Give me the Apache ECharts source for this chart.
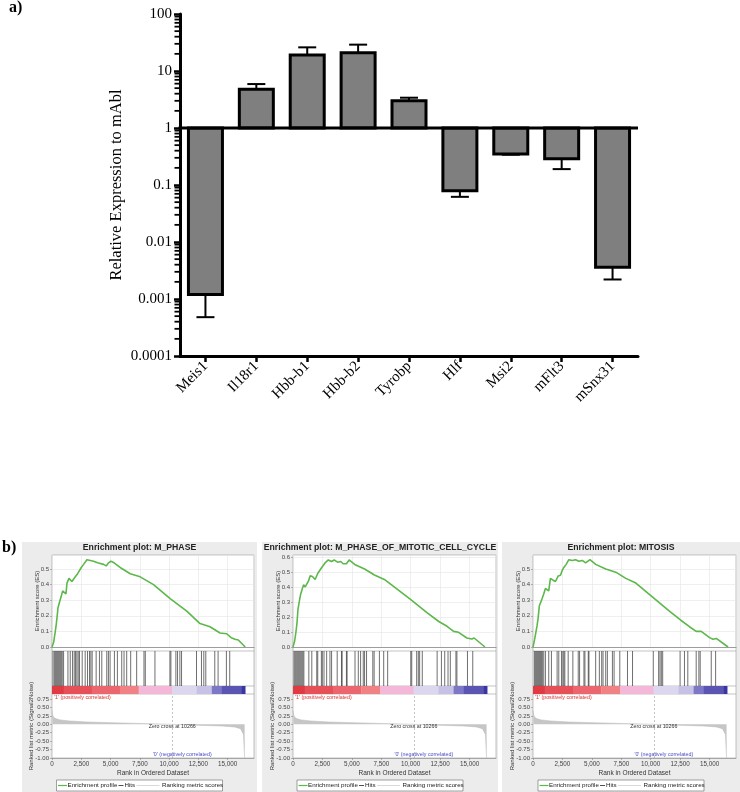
<!DOCTYPE html>
<html><head><meta charset="utf-8">
<script src="https://cdn.jsdelivr.net/npm/echarts@6/dist/echarts.min.js"></script>
<style>html,body{margin:0;padding:0;background:#fff}#c{width:740px;height:792px}</style>
</head><body><div id="c"></div>
<script>
// ================= Part a data =================
const genes = ['Meis1', 'Il18r1', 'Hbb-b1', 'Hbb-b2', 'Tyrobp', 'Hlf', 'Msi2', 'mFlt3', 'mSnx31'];
const expression = [0.0012, 4.8, 19, 21, 3.0, 0.079, 0.35, 0.29, 0.0036];
const errorEnds = [0.00048, 5.9, 26, 29, 3.4, 0.062, 0.34, 0.19, 0.0022];
const logTickLabels = ['0.0001', '0.001', '0.01', '0.1', '1', '10', '100'];
const minorMultipliers = [2, 3, 4, 5, 6, 7, 8, 9];
const decades = [0.0001, 0.001, 0.01, 0.1, 1, 10];

// ================= Part b data =================
const panelTitles = ['Enrichment plot: M_PHASE', 'Enrichment plot: M_PHASE_OF_MITOTIC_CELL_CYCLE', 'Enrichment plot: MITOSIS'];
const esCurve1 = [[0,0],[60,0.0],[140,0.03],[340,0.13],[430,0.19],[510,0.25],[650,0.29],[770,0.32],[910,0.36],[1080,0.35],[1190,0.34],[1280,0.41],[1450,0.44],[1700,0.42],[1990,0.45],[2190,0.47],[2360,0.46],[2500,0.51],[2700,0.53],[2980,0.56],[3270,0.555],[3550,0.55],[3890,0.54],[4400,0.53],[4630,0.52],[4830,0.54],[5030,0.55],[5300,0.54],[5820,0.51],[6680,0.47],[7530,0.45],[8670,0.40],[10090,0.31],[11510,0.23],[12640,0.15],[13490,0.13],[14350,0.09],[14920,0.085],[15300,0.06],[15450,0.065],[15630,0.05],[15910,0.045],[16500,0.0]];
const esCurve2 = [[0,0],[56,0],[140,0.04],[250,0.10],[340,0.16],[420,0.25],[530,0.30],[645,0.35],[757,0.38],[900,0.415],[1040,0.40],[1180,0.39],[1320,0.44],[1460,0.475],[1650,0.47],[1880,0.45],[2100,0.49],[2240,0.48],[2440,0.53],[2720,0.56],[3000,0.58],[3280,0.57],[3500,0.58],[3780,0.565],[4060,0.57],[4260,0.555],[4540,0.555],[4770,0.58],[5240,0.55],[6080,0.52],[6920,0.48],[7760,0.45],[8600,0.40],[10010,0.315],[11410,0.227],[12390,0.17],[13090,0.138],[13650,0.104],[14070,0.098],[14770,0.06],[15190,0.053],[15390,0.06],[16310,0]];
const esCurve3 = [[0,0],[57,0],[142,0.05],[256,0.05],[342,0.135],[427,0.18],[541,0.265],[655,0.275],[769,0.31],[911,0.34],[1054,0.375],[1196,0.37],[1338,0.36],[1481,0.44],[1680,0.43],[1908,0.42],[2136,0.455],[2335,0.46],[2477,0.49],[2620,0.51],[2819,0.53],[3047,0.56],[3332,0.555],[3617,0.56],[3901,0.55],[4186,0.555],[4470,0.54],[4841,0.56],[5325,0.53],[6179,0.50],[7033,0.48],[7887,0.44],[8741,0.41],[10165,0.32],[11589,0.23],[12585,0.17],[13297,0.13],[13867,0.10],[14294,0.10],[15006,0.06],[15290,0.05],[15575,0.055],[16572,0]];
const hits1 = [85,196,281,366,451,536,621,706,791,876,990,1360,1557,1755,1898,2011,2125,2238,2351,2579,2834,3033,3203,3316,3430,3770,4053,4252,4677,4819,4961,5330,5585,5954,6152,6379,6719,7230,7854,7968,8791,10068,10153,10579,10721,10919,11062,12340,12765,12964,13134,13900,14184,14893,15177];
const hits2 = [84,168,252,336,420,504,589,673,757,841,925,1345,1598,2018,2102,2410,2494,2635,2859,3139,3279,3756,4120,4176,4540,4596,5269,5549,5745,5970,6082,6250,6782,6895,7343,7707,8044,10006,10090,10510,10650,10762,10987,12248,12612,12892,13173,13369,13845,13929,14826,15275];
const hits3 = [114,199,285,370,456,541,626,712,797,911,1054,1338,1566,2050,2192,2420,2534,2620,2705,2990,3388,3844,3958,4328,4413,4698,4755,5325,5638,5837,5951,6179,6321,6748,6891,7375,8030,8457,10222,10677,10791,10905,11019,12500,12870,13155,13867,14095,14208,15148,15518];
const rankedMetric = [[0,0.42],[40,0.30],[120,0.22],[300,0.17],[700,0.13],[1500,0.10],[3000,0.07],[5000,0.05],[7500,0.025],[10266,0],[12500,-0.03],[14500,-0.05],[15600,-0.08],[16100,-0.13],[16350,-0.3],[16450,-1.0]];
const colorBarEdges = [0, 1000, 3400, 5800, 7400, 10250, 12350, 13650, 14500, 16200, 16500];
const zeroCross = 10266;
const esAxisMax = [0.59, 0.613, 0.59];
const rankMax = 17250;
const rankTickStep = 2500;

// ================= styles / layout =================
const SERIF = '"Liberation Serif","Times New Roman",serif';
const SANS = '"Liberation Sans",Arial,sans-serif';
const colorBarColors = ['#e03a42','#e65058','#ec6670','#f08286','#f5b7d7','#dcd7ee','#c7c1e5','#7d77c8','#5a55b2','#3a35a0'];
const esColor = '#5cb84a';
const panelLayout = [
  {bgL: 22, bgR: 257, plotL: 52, plotR: 254},
  {bgL: 262, bgR: 498, plotL: 293, plotR: 496},
  {bgL: 502, bgR: 740, plotL: 533, plotR: 736}
];
const esCurves = [esCurve1, esCurve2, esCurve3];
const hitsList = [hits1, hits2, hits3];
const Y = {bgTop: 542, title: 548, esTop: 555, esBot: 647, frameEsBot: 651, hitsBot: 686, barBot: 694, metBot: 758};

const grids = [], xAxes = [], yAxes = [], series = [], graphics = [];

// ---------------- Part a ----------------
grids.push({left: 180, top: 14, width: 458, height: 342});
xAxes.push({
  gridIndex: 0, type: 'category', data: genes, boundaryGap: true,
  axisLine: {show: true, lineStyle: {color: '#000', width: 3}},
  axisTick: {show: true, alignWithLabel: true, length: 6, lineStyle: {color: '#000', width: 2.5}},
  axisLabel: {rotate: 45, fontFamily: SERIF, fontSize: 15, color: '#000', margin: 8},
  splitLine: {show: false}
});
yAxes.push({
  gridIndex: 0, type: 'log', logBase: 10, min: 0.0001, max: 100,
  name: 'Relative Expression to mAbl', nameLocation: 'middle', nameGap: 55, nameMoveOverlap: false,
  nameTextStyle: {fontFamily: SERIF, fontSize: 16.5, color: '#000'},
  axisLine: {show: true, lineStyle: {color: '#000', width: 3}},
  axisTick: {show: true, length: 6, lineStyle: {color: '#000', width: 2.5}},
  axisLabel: {fontFamily: SERIF, fontSize: 15, color: '#000', margin: 8,
    formatter: v => logTickLabels[Math.round(Math.log10(v)) + 4]},
  splitLine: {show: false}
});
// log-spaced minor ticks
const minorTickValues = [];
decades.forEach(d => minorMultipliers.forEach(m => minorTickValues.push(d * m)));
series.push({
  type: 'custom', xAxisIndex: 0, yAxisIndex: 0, silent: true, z: 3,
  data: minorTickValues.map(v => [0, v]),
  encode: {x: 0, y: 1},
  renderItem(params, api) {
    const p = api.coord([0, api.value(1)]);
    const x = params.coordSys.x;
    return {type: 'line', shape: {x1: x - 5.5, y1: p[1], x2: x, y2: p[1]}, style: {stroke: '#000', lineWidth: 1.8}};
  }
});
// bars with error bars
series.push({
  type: 'custom', xAxisIndex: 0, yAxisIndex: 0, silent: true, z: 4,
  data: genes.map((g, i) => [i, expression[i], errorEnds[i]]),
  encode: {x: 0, y: 1},
  renderItem(params, api) {
    const i = api.value(0), v = api.value(1), e = api.value(2);
    const base = api.coord([i, 1]), top = api.coord([i, v]), err = api.coord([i, e]);
    const w = 34, cap = 18, x = base[0];
    const y0 = Math.min(base[1], top[1]), h = Math.abs(top[1] - base[1]);
    return {type: 'group', children: [
      {type: 'line', shape: {x1: x, y1: top[1], x2: x, y2: err[1]}, style: {stroke: '#000', lineWidth: 2}},
      {type: 'line', shape: {x1: x - cap / 2, y1: err[1], x2: x + cap / 2, y2: err[1]}, style: {stroke: '#000', lineWidth: 2}},
      {type: 'rect', shape: {x: x - w / 2, y: y0, width: w, height: h}, style: {fill: '#7f7f7f', stroke: '#000', lineWidth: 3}}
    ]};
  }
});
// baseline at 1
series.push({
  type: 'custom', xAxisIndex: 0, yAxisIndex: 0, silent: true, z: 6,
  data: [[0, 1]], encode: {x: 0, y: 1},
  renderItem(params, api) {
    const p = api.coord([0, 1]);
    const cs = params.coordSys;
    return {type: 'line', shape: {x1: cs.x - 1.5, y1: p[1], x2: cs.x + cs.width, y2: p[1]}, style: {stroke: '#000', lineWidth: 3}};
  }
});

graphics.push({type: 'text', x: 9, y: 8, z: 100, style: {text: 'a)', fontFamily: SERIF, fontWeight: 'bold', fontSize: 16, fill: '#000', verticalAlign: 'middle'}});
graphics.push({type: 'text', x: 2, y: 548, z: 100, style: {text: 'b)', fontFamily: SERIF, fontWeight: 'bold', fontSize: 16, fill: '#000', verticalAlign: 'middle'}});

// ---------------- Part b ----------------
const annotationTexts = ["'1' (positively correlated)", 'Zero cross at ' + zeroCross, "'0' (negatively correlated)"];
const annotationColors = ['#e03030', '#333333', '#4a4acc'];

panelLayout.forEach((P, p) => {
  const w = P.plotR - P.plotL;
  const cx = (P.bgL + P.bgR) / 2;
  graphics.push({type: 'rect', z: -100, shape: {x: P.bgL, y: Y.bgTop, width: P.bgR - P.bgL, height: 792 - Y.bgTop}, style: {fill: '#ececec'}});
  graphics.push({type: 'rect', z: -90, shape: {x: P.plotL, y: Y.esTop, width: w, height: Y.metBot - Y.esTop}, style: {fill: '#fff', stroke: '#9a9a9a', lineWidth: 0.6}});
  [Y.frameEsBot, Y.hitsBot, Y.barBot].forEach(yy => graphics.push({type: 'line', z: -80, shape: {x1: P.plotL, y1: yy, x2: P.plotR, y2: yy}, style: {stroke: '#9a9a9a', lineWidth: 0.6}}));
  graphics.push({type: 'text', x: cx, y: Y.title, z: 100, style: {text: panelTitles[p], fontFamily: SANS, fontWeight: 'bold', fontSize: 8.7, fill: '#222', align: 'center', verticalAlign: 'middle'}});
  const L = cx - 83, T = 780, H = 11, my = T + H / 2;
  graphics.push({type: 'rect', z: 50, shape: {x: L, y: T, width: 166, height: H}, style: {fill: '#fff', stroke: '#666', lineWidth: 0.6}});
  graphics.push({type: 'line', z: 51, shape: {x1: L + 1.5, y1: my, x2: L + 10.5, y2: my}, style: {stroke: esColor, lineWidth: 1.2}});
  graphics.push({type: 'text', z: 51, x: L + 11, y: my, style: {text: 'Enrichment profile', fontFamily: SANS, fontSize: 6.2, fill: '#222', verticalAlign: 'middle'}});
  graphics.push({type: 'line', z: 51, shape: {x1: L + 62, y1: my, x2: L + 67, y2: my}, style: {stroke: '#222', lineWidth: 0.8}});
  graphics.push({type: 'text', z: 51, x: L + 68, y: my, style: {text: 'Hits', fontFamily: SANS, fontSize: 6.2, fill: '#222', verticalAlign: 'middle'}});
  graphics.push({type: 'line', z: 51, shape: {x1: L + 80, y1: my, x2: L + 103, y2: my}, style: {stroke: '#cfcfcf', lineWidth: 0.8}});
  graphics.push({type: 'text', z: 51, x: L + 105.5, y: my, style: {text: 'Ranking metric scores', fontFamily: SANS, fontSize: 6.2, fill: '#222', verticalAlign: 'middle'}});

  const hiddenX = gi => ({gridIndex: gi, type: 'value', min: 0, max: rankMax, show: false});
  const hiddenY = gi => ({gridIndex: gi, type: 'value', min: 0, max: 1, show: false});

  const gES = grids.length;
  grids.push({left: P.plotL, width: w, top: Y.esTop, height: Y.esBot - Y.esTop});
  xAxes.push({gridIndex: gES, type: 'value', min: 0, max: rankMax, interval: rankTickStep,
    axisLabel: {show: false}, axisTick: {show: false},
    axisLine: {show: true, onZero: false, lineStyle: {color: '#888', width: 0.8}},
    splitLine: {show: true, lineStyle: {color: '#e4e4e4', width: 0.6}}});
  yAxes.push({gridIndex: gES, type: 'value', min: 0, max: esAxisMax[p], interval: 0.1,
    name: 'Enrichment score (ES)', nameLocation: 'middle', nameGap: 12, nameMoveOverlap: false,
    nameTextStyle: {fontFamily: SANS, fontSize: 6, color: '#333'},
    axisLine: {show: false}, axisTick: {show: true, length: 2, lineStyle: {color: '#888', width: 0.6}},
    axisLabel: {fontFamily: SANS, fontSize: 6, color: '#444', margin: 3, showMaxLabel: false, formatter: v => v.toFixed(1)},
    splitLine: {show: true, lineStyle: {color: '#e4e4e4', width: 0.6}}});
  series.push({type: 'line', xAxisIndex: gES, yAxisIndex: gES, data: esCurves[p], showSymbol: false, silent: true, z: 5,
    lineStyle: {color: esColor, width: 1.6}});

  const gH = grids.length;
  grids.push({left: P.plotL, width: w, top: Y.frameEsBot, height: Y.hitsBot - Y.frameEsBot});
  xAxes.push(hiddenX(gH)); yAxes.push(hiddenY(gH));
  series.push({type: 'custom', xAxisIndex: gH, yAxisIndex: gH, silent: true,
    data: hitsList[p].map(r => [r, 1]), encode: {x: 0, y: 1},
    renderItem(params, api) {
      const a = api.coord([api.value(0), 0]), b = api.coord([api.value(0), 1]);
      return {type: 'line', shape: {x1: a[0], y1: a[1], x2: b[0], y2: b[1]}, style: {stroke: '#222', lineWidth: 0.65}};
    }});

  const gB = grids.length;
  grids.push({left: P.plotL, width: w, top: Y.hitsBot, height: Y.barBot - Y.hitsBot});
  xAxes.push(hiddenX(gB)); yAxes.push(hiddenY(gB));
  series.push({type: 'custom', xAxisIndex: gB, yAxisIndex: gB, silent: true,
    data: colorBarEdges.slice(0, -1).map((s, i) => [s, colorBarEdges[i + 1], i]), encode: {x: [0, 1]},
    renderItem(params, api) {
      const a = api.coord([api.value(0), 1]), b = api.coord([api.value(1), 0]);
      return {type: 'rect', shape: {x: a[0], y: a[1], width: b[0] - a[0] + 0.3, height: b[1] - a[1]}, style: {fill: colorBarColors[api.value(2)]}};
    }});

  const gM = grids.length;
  grids.push({left: P.plotL, width: w, top: Y.barBot, height: Y.metBot - Y.barBot});
  xAxes.push({gridIndex: gM, type: 'value', min: 0, max: rankMax, interval: rankTickStep,
    name: 'Rank in Ordered Dataset', nameLocation: 'middle', nameGap: 12, nameMoveOverlap: false,
    nameTextStyle: {fontFamily: SANS, fontSize: 6.5, color: '#333'},
    axisLine: {show: true, onZero: false, lineStyle: {color: '#888', width: 0.6}},
    axisTick: {show: true, length: 2, lineStyle: {color: '#888', width: 0.6}},
    axisLabel: {fontFamily: SANS, fontSize: 6.3, color: '#444', margin: 3, showMaxLabel: false,
      formatter: v => v.toLocaleString('en-US')},
    splitLine: {show: false}});
  yAxes.push({gridIndex: gM, type: 'value', min: -1, max: 0.9, interval: 0.25,
    name: 'Ranked list metric (Signal2Noise)', nameLocation: 'middle', nameGap: 18, nameMoveOverlap: false,
    nameTextStyle: {fontFamily: SANS, fontSize: 6, color: '#333'},
    axisLine: {show: false}, axisTick: {show: true, length: 2, lineStyle: {color: '#888', width: 0.6}},
    axisLabel: {fontFamily: SANS, fontSize: 6, color: '#444', margin: 3, showMaxLabel: false, formatter: v => v.toFixed(2)},
    splitLine: {show: false}});
  series.push({type: 'line', xAxisIndex: gM, yAxisIndex: gM, data: rankedMetric, showSymbol: false, silent: true,
    lineStyle: {color: '#b8b8b8', width: 0.5}, areaStyle: {color: '#c6c6c6', opacity: 1, origin: 'auto'},
    markLine: {silent: true, symbol: 'none', label: {show: false},
      lineStyle: {color: '#aaa', type: [2, 2], width: 0.7}, data: [{xAxis: zeroCross}]}});
  series.push({type: 'custom', xAxisIndex: gM, yAxisIndex: gM, silent: true, z: 10,
    data: [[0, 0.9, 0], [zeroCross, 0, 1], [zeroCross, -1, 2]], encode: {x: 0, y: 1},
    renderItem(params, api) {
      const k = api.value(2);
      const c = api.coord([api.value(0), api.value(1)]);
      const off = [[2, 4], [0, 2], [10, -3.5]][k];
      return {type: 'text', x: c[0] + off[0], y: c[1] + off[1],
        style: {text: annotationTexts[k], fontFamily: SANS, fontSize: 5.3, fill: annotationColors[k],
          align: k === 0 ? 'left' : 'center', verticalAlign: 'middle'}};
    }});
});

const chart = echarts.init(document.getElementById('c'), null, {renderer: 'canvas'});
chart.setOption({
  animation: false,
  backgroundColor: '#fff',
  textStyle: {fontFamily: SANS},
  grid: grids, xAxis: xAxes, yAxis: yAxes, series: series,
  graphic: {elements: graphics}
});
</script></body></html>
